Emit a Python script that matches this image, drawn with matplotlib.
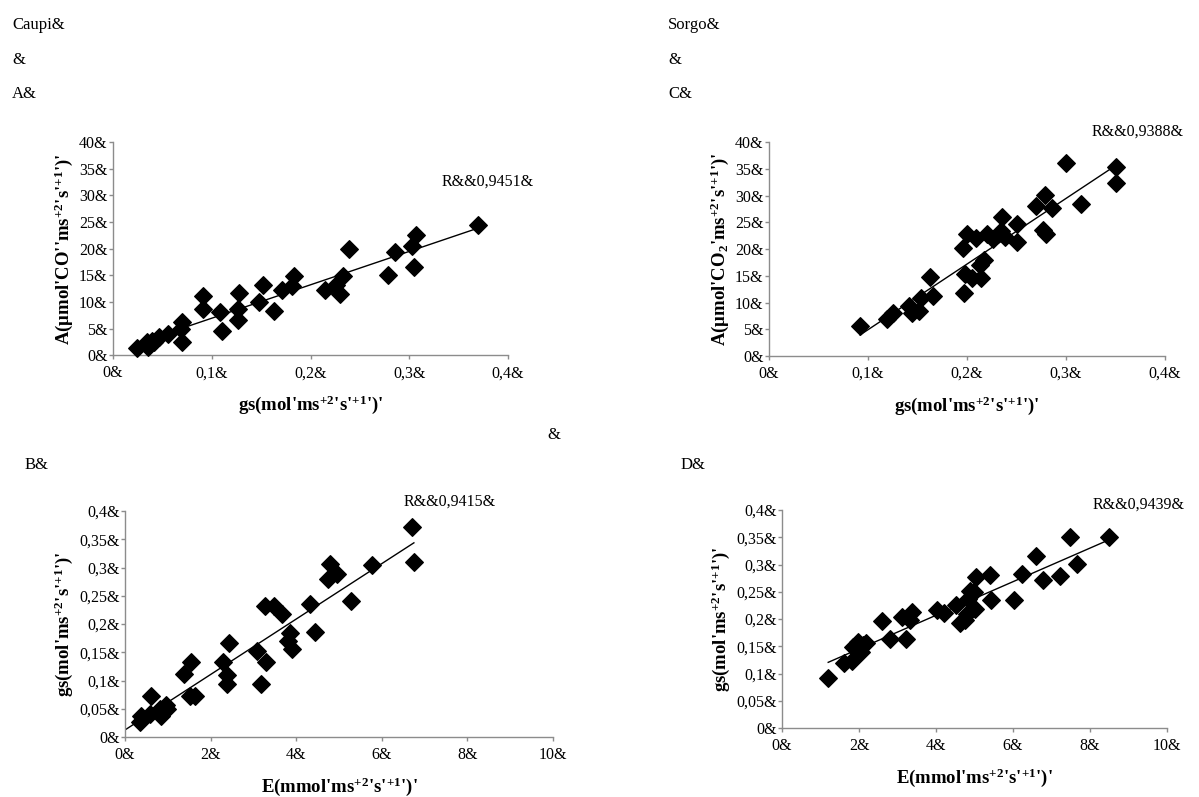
import matplotlib.pyplot as plt
import numpy as np

plt.rcParams['font.family'] = 'Liberation Serif'
plt.rcParams['mathtext.fontset'] = 'custom'
plt.rcParams['mathtext.rm'] = 'Liberation Serif'
plt.rcParams['mathtext.bf'] = 'Liberation Serif:bold'
plt.rcParams['mathtext.default'] = 'bf'

# A - Caupi : gs vs A
caupi_gs = [0.024, 0.034, 0.035, 0.039, 0.042, 0.047, 0.056, 0.070, 0.069, 0.070,
            0.091, 0.091, 0.108, 0.110, 0.127, 0.128, 0.127, 0.148, 0.152, 0.163,
            0.171, 0.181, 0.183, 0.215, 0.226, 0.230, 0.233, 0.239, 0.278, 0.286,
            0.303, 0.307, 0.305, 0.370]
caupi_A = [1.4, 2.5, 1.5, 2.8, 2.6, 3.5, 4.0, 6.2, 4.9, 2.5,
           11.1, 8.8, 8.2, 4.6, 8.8, 11.7, 6.7, 10.1, 13.3, 8.3,
           12.2, 13.0, 14.9, 12.3, 13.3, 11.5, 14.9, 19.9, 15.1, 19.3,
           20.5, 22.5, 16.5, 24.4]

# C - Sorgo : gs vs A
sorgo_gs = [0.092, 0.119, 0.125, 0.141, 0.144, 0.152, 0.154, 0.163, 0.166, 0.196,
            0.197, 0.198, 0.200, 0.205, 0.209, 0.213, 0.214, 0.217, 0.220, 0.226,
            0.234, 0.235, 0.238, 0.250, 0.251, 0.270, 0.277, 0.279, 0.280, 0.286,
            0.300, 0.315, 0.350, 0.350]
sorgo_A = [5.6, 7.0, 8.0, 9.4, 8.0, 8.5, 10.8, 14.7, 11.3, 20.1,
           11.7, 15.4, 22.8, 14.6, 22.0, 17.1, 14.6, 17.9, 22.8, 21.9,
           23.3, 25.9, 22.2, 21.4, 24.7, 28.1, 23.5, 30.1, 22.8, 27.6,
           36.1, 28.4, 35.3, 32.3]

# B - Caupi : E vs gs
caupi_E = [0.36, 0.38, 0.58, 0.61, 0.81, 0.83, 0.96, 0.99, 1.39, 1.55,
           1.52, 1.63, 2.29, 2.38, 2.38, 2.42, 3.09, 3.18, 3.26, 3.30,
           3.48, 3.66, 3.81, 3.86, 3.90, 4.33, 4.44, 4.74, 4.80, 4.95,
           5.29, 5.76, 6.70, 6.75]
caupi_gs2 = [0.026, 0.038, 0.041, 0.073, 0.049, 0.038, 0.057, 0.049, 0.111, 0.132,
             0.073, 0.072, 0.132, 0.110, 0.093, 0.166, 0.152, 0.094, 0.232, 0.132,
             0.231, 0.217, 0.170, 0.184, 0.155, 0.236, 0.186, 0.279, 0.306, 0.289,
             0.241, 0.305, 0.372, 0.309]

# D - Sorgo : E vs gs
sorgo_E = [1.20, 1.62, 1.81, 1.85, 1.92, 1.98, 2.06, 2.10, 2.19, 2.59,
           2.80, 3.12, 3.21, 3.33, 3.38, 4.03, 4.21, 4.51, 4.62, 4.76,
           4.81, 4.83, 4.88, 4.99, 5.02, 5.04, 5.39, 5.44, 6.02, 6.24,
           6.59, 6.78, 7.22, 7.47, 7.66, 8.49]
sorgo_gs2 = [0.091, 0.119, 0.123, 0.148, 0.145, 0.158, 0.140, 0.152, 0.156, 0.196,
             0.164, 0.204, 0.163, 0.198, 0.213, 0.217, 0.211, 0.225, 0.193, 0.198,
             0.210, 0.237, 0.252, 0.250, 0.219, 0.277, 0.280, 0.234, 0.234, 0.283,
             0.315, 0.271, 0.279, 0.351, 0.301, 0.351]

r2_labels = ['R&&0,9451&', 'R&&0,9388&', 'R&&0,9415&', 'R&&0,9439&']

ticks_A = [0, 5, 10, 15, 20, 25, 30, 35, 40]
ticks_A_lab = ['0&', '5&', '10&', '15&', '20&', '25&', '30&', '35&', '40&']
ticks_gs_x = [0, 0.1, 0.2, 0.3, 0.4]
ticks_gs_x_lab = ['0&', '0,1&', '0,2&', '0,3&', '0,4&']
ticks_gs_y = [0, 0.05, 0.1, 0.15, 0.2, 0.25, 0.3, 0.35, 0.4]
ticks_gs_y_lab = ['0&', '0,05&', '0,1&', '0,15&', '0,2&', '0,25&', '0,3&', '0,35&', '0,4&']
ticks_E = [0, 2, 4, 6, 8, 10]
ticks_E_lab = ['0&', '2&', '4&', '6&', '8&', '10&']

lab_gs = r"gs(mol'ms$^{+2}$'s'$^{+1}$')'"
lab_E = r"E(mmol'ms$^{+2}$'s'$^{+1}$')'"
lab_A_caupi = r"A($\mu$mol'CO''ms$^{+2}$'s'$^{+1}$')'"
lab_A_sorgo = r"A($\mu$mol'CO$_2$'ms$^{+2}$'s'$^{+1}$')'"

W, H = 1199, 797
fig = plt.figure(figsize=(W / 100, H / 100), dpi=100)


def panel(box, x, y, xt, xtl, yt, ytl, xlab, ylab, r2, r2pos, x0=None):
    l, t, r, b = box
    ax = fig.add_axes([l / W, 1 - b / H, (r - l) / W, (b - t) / H])
    ax.set_xlim(xt[0], xt[-1])
    ax.set_ylim(yt[0], yt[-1])
    ax.set_xticks(xt)
    ax.set_xticklabels(xtl)
    ax.set_yticks(yt)
    ax.set_yticklabels(ytl)
    for s in ['top', 'right']:
        ax.spines[s].set_visible(False)
    for s in ['left', 'bottom']:
        ax.spines[s].set_color('#8c8c8c')
        ax.spines[s].set_linewidth(1)
    ax.tick_params(axis='both', direction='out', length=3, color='#8c8c8c',
                   labelsize=11.5, width=1)
    ax.tick_params(axis='y', pad=1)
    ax.tick_params(axis='x', pad=4)
    ax.scatter(x, y, marker='D', s=80, color='black', zorder=3, clip_on=False)
    k, c = np.polyfit(x, y, 1)
    xs = np.array([min(x) if x0 is None else x0, max(x)])
    ax.plot(xs, k * xs + c, color='black', lw=1, zorder=2)
    ax.set_xlabel(xlab, fontsize=13.5, fontweight='bold', labelpad=9)
    ax.set_ylabel(ylab, fontsize=13.5, fontweight='bold', labelpad=3)
    fig.text(r2pos[0] / W, 1 - r2pos[1] / H, r2, fontsize=11.5, va='center')
    return ax


panel((113, 142, 508, 355.5), caupi_gs, caupi_A, ticks_gs_x, ticks_gs_x_lab,
      ticks_A, ticks_A_lab, lab_gs, lab_A_caupi, r2_labels[0], (442, 182))
panel((769, 142, 1165, 356), sorgo_gs, sorgo_A, ticks_gs_x, ticks_gs_x_lab,
      ticks_A, ticks_A_lab, lab_gs, lab_A_sorgo, r2_labels[1], (1092, 132))
panel((125, 511, 553, 737), caupi_E, caupi_gs2, ticks_E, ticks_E_lab,
      ticks_gs_y, ticks_gs_y_lab, lab_E, lab_gs, r2_labels[2], (404, 502), x0=0)
panel((782, 510, 1167, 728), sorgo_E, sorgo_gs2, ticks_E, ticks_E_lab,
      ticks_gs_y, ticks_gs_y_lab, lab_E, lab_gs, r2_labels[3], (1093, 505))

# textos soltos
for txt, px, py in [('Caupi&', 12, 25), ('&', 12, 60), ('A&', 12, 94),
                    ('Sorgo&', 668, 25), ('&', 668, 60), ('C&', 668, 94),
                    ('&', 547, 435), ('B&', 25, 465), ('D&', 681, 465)]:
    fig.text(px / W, 1 - py / H, txt, fontsize=12, va='center')

fig.savefig('out.png', dpi=100)
